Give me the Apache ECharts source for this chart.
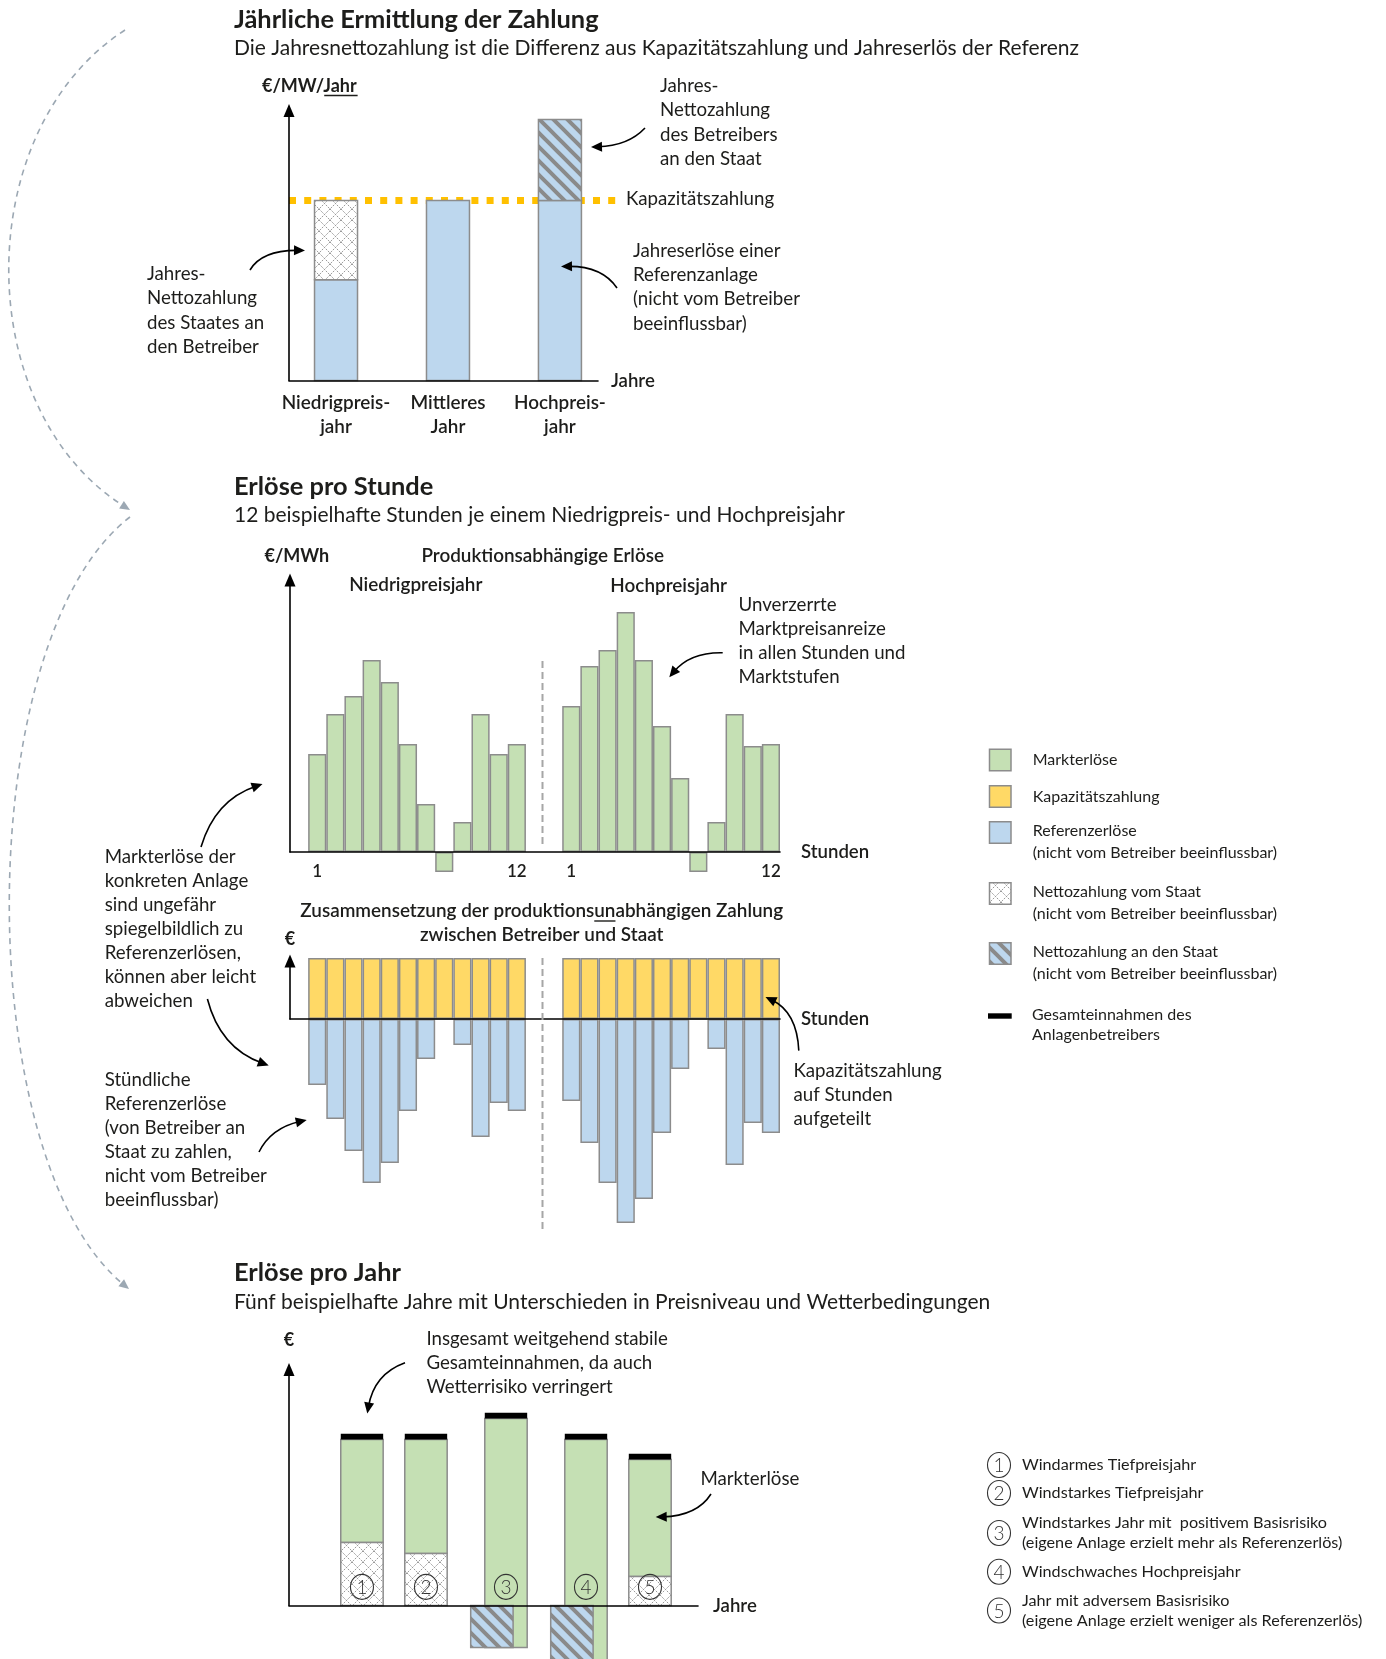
<!DOCTYPE html>
<html lang="de">
<head>
<meta charset="utf-8">
<title>Kapazitätszahlung – Erlöse</title>
<script src="https://cdn.jsdelivr.net/npm/echarts@6.0.0/dist/echarts.min.js"></script>
<style>
  html, body { margin: 0; padding: 0; background: #fff; }
  #chart { width: 1386px; height: 1659px; }
</style>
</head>
<body>
<div id="chart"></div>
<script>
// ---------- Werte ----------
// Jährliche Ermittlung (Index: Kapazitätszahlung = 100)
const yearTypes = ['Niedrigpreis-\njahr', 'Mittleres\nJahr', 'Hochpreis-\njahr'];
const capacityPayment = 100;
const referenceAnnual = [56, 100, 145];

// Erlöse pro Stunde: 12 Beispielstunden je Jahr
const hourLabels = ['1', '2', '3', '4', '5', '6', '7', '8', '9', '10', '11', '12'];
const marketLow  = [49, 69, 78, 96, 85, 54, 24, -10, 15, 69, 49, 54];
const marketHigh = [73, 93, 101, 120, 96, 63, 37, -10, 15, 69, 53, 54];
const capacityLow  = [30.5, 30.5, 30.5, 30.5, 30.5, 30.5, 30.5, 30.5, 30.5, 30.5, 30.5, 30.5];
const capacityHigh = [30.5, 30.5, 30.5, 30.5, 30.5, 30.5, 30.5, 30.5, 30.5, 30.5, 30.5, 30.5];
const referenceLow  = [33, 50, 66, 82, 72, 46, 20, 0, 13, 59, 42, 46];
const referenceHigh = [41, 62, 82, 102, 90, 57, 25, 0, 15, 73, 52, 57];

// Erlöse pro Jahr: fünf Beispieljahre
const yearCases = ['1', '2', '3', '4', '5'];
const yearCaseText = [
  'Windarmes Tiefpreisjahr',
  'Windstarkes Tiefpreisjahr',
  'Windstarkes Jahr mit  positivem Basisrisiko\n(eigene Anlage erzielt mehr als Referenzerlös)',
  'Windschwaches Hochpreisjahr',
  'Jahr mit adversem Basisrisiko\n(eigene Anlage erzielt weniger als Referenzerlös)'
];
const marketYear   = [51.5, 57, 114.5, 111, 58.5];
const netFromState = [31.5, 26, 0, 0, 14.5];
const netToState   = [0, 0, 21, 28, 0];

// ---------- Layout ----------
const yearSlot = [1, 2, 3.25, 4.5, 5.5];   // Lage der Jahre auf der Zeitachse
const hatchShift = 0.22;                   // Versatz der Zahlung an den Staat
const capLineSpan = [0.58, 3.51];          // Ausdehnung der Linie für die Kapazitätszahlung
const FONT = 'Lato, "Noto Sans", sans-serif';
const INK = '#1d1d1b';
const GREEN = '#c5e0b4', YELLOW = '#ffd966', BLUE = '#bdd7ee', EDGE = '#8c8c8c';
const CAPLINE = '#ffc000', ARC = '#9ca8b3';
const NOTE = 18.7, LABEL = 18.9;

// ---------- Füllmuster ----------
function crossPattern() {
  const s = 11, c = document.createElement('canvas');
  c.width = s; c.height = s;
  const g = c.getContext('2d');
  g.fillStyle = '#fff'; g.fillRect(0, 0, s, s);
  g.strokeStyle = '#9a9a9a'; g.lineWidth = 1; g.setLineDash([2, 1.2]);
  g.beginPath(); g.moveTo(0, 0); g.lineTo(s, s); g.moveTo(s, 0); g.lineTo(0, s); g.stroke();
  return c;
}
function stripePattern() {
  const s = 14, c = document.createElement('canvas');
  c.width = s; c.height = s;
  const g = c.getContext('2d');
  g.fillStyle = BLUE; g.fillRect(0, 0, s, s);
  g.strokeStyle = '#8a8a8a'; g.lineWidth = 4;
  g.beginPath();
  for (let k = -1; k <= 1; k++) { g.moveTo(-3, -3 + k * s); g.lineTo(s + 3, s + 3 + k * s); }
  g.stroke();
  return c;
}
const CROSS = { image: crossPattern(), repeat: 'repeat' };
const STRIPES = { image: stripePattern(), repeat: 'repeat' };

// ---------- Hilfsfunktionen ----------
const measureCtx = document.createElement('canvas').getContext('2d');
function textWidth(str, font) { measureCtx.font = font; return measureCtx.measureText(str).width; }
function fnt(weight, size) { return `${weight} ${size}px ${FONT}`; }

// y = Mitte der ersten Zeile
function txt(text, x, y, opt) {
  opt = opt || {};
  const size = opt.size || NOTE, lh = opt.lh || 24;
  const align = opt.align || 'left';
  return { type: 'text', silent: true, z: 50, style: {
    text, x, y: y - lh / 2, font: fnt(opt.weight || 'normal', size), fill: opt.color || INK,
    lineHeight: lh, align, textAlign: align, verticalAlign: 'top', textVerticalAlign: 'top'
  } };
}
function hline(x1, x2, y, w, color) {
  return { type: 'line', silent: true, z: 50, shape: { x1, y1: y, x2, y2: y },
    style: { stroke: color || INK, lineWidth: w || 1.3 } };
}
function arrowHead(x1, y1, fromX, fromY, color, L, W) {
  const ang = Math.atan2(y1 - fromY, x1 - fromX);
  const bx = x1 - L * Math.cos(ang), by = y1 - L * Math.sin(ang);
  const nx = -Math.sin(ang), ny = Math.cos(ang);
  return { type: 'polygon', silent: true, z: 50,
    shape: { points: [[x1, y1], [bx + nx * W, by + ny * W], [bx - nx * W, by - ny * W]] },
    style: { fill: color } };
}
function curvedArrow(x0, y0, cx, cy, x1, y1) {
  const ang = Math.atan2(y1 - cy, x1 - cx);
  const ex = x1 - 7 * Math.cos(ang), ey = y1 - 7 * Math.sin(ang);
  return [
    { type: 'bezierCurve', silent: true, z: 50,
      shape: { x1: x0, y1: y0, cpx1: cx, cpy1: cy, x2: ex, y2: ey },
      style: { stroke: '#000', lineWidth: 1.6, fill: 'none' } },
    arrowHead(x1, y1, cx, cy, '#000', 11, 5)
  ];
}
function dashedArc(x0, y0, c1x, c1y, c2x, c2y, x1, y1) {
  const ang = Math.atan2(y1 - c2y, x1 - c2x);
  return [
    { type: 'bezierCurve', silent: true, z: 40,
      shape: { x1: x0, y1: y0, cpx1: c1x, cpy1: c1y, cpx2: c2x, cpy2: c2y,
        x2: x1 - 6 * Math.cos(ang), y2: y1 - 6 * Math.sin(ang) },
      style: { stroke: ARC, lineWidth: 1.6, lineDash: [6, 5], fill: 'none' } },
    arrowHead(x1, y1, c2x, c2y, ARC, 10, 4.5)
  ];
}
function numberCircle(cx, cy, label) {
  return [
    { type: 'ellipse', silent: true, z: 50, shape: { cx, cy, rx: 11.5, ry: 12.5 },
      style: { fill: 'none', stroke: '#333', lineWidth: 1.1 } },
    { type: 'text', silent: true, z: 51, style: { text: label, x: cx, y: cy + 1, font: fnt('300', 19),
      fill: '#333', align: 'center', textAlign: 'center', verticalAlign: 'middle', textVerticalAlign: 'middle' } }
  ];
}

// Balkenabschnitt [x, von, bis] über die Achsen der Koordinatensysteme
function segmentSeries(name, axisIdx, data, fill, widthUnits, z) {
  return {
    type: 'custom', name, xAxisIndex: axisIdx, yAxisIndex: axisIdx, data,
    clip: false, silent: true, z: z || 2,
    encode: { x: 0, y: [1, 2] },
    renderItem(params, api) {
      const x = api.value(0);
      const a = api.coord([x, api.value(1)]), b = api.coord([x, api.value(2)]);
      const w = api.size([widthUnits, 0])[0];
      return { type: 'rect',
        shape: { x: a[0] - w / 2, y: Math.min(a[1], b[1]), width: w, height: Math.abs(a[1] - b[1]) },
        style: { fill, stroke: EDGE, lineWidth: 1.5 } };
    }
  };
}

// ---------- abgeleitete Reihen ----------
const annualRef = referenceAnnual.map((r, i) => [i + 1, 0, Math.min(r, capacityPayment)]);
const annualFromState = referenceAnnual.map((r, i) => [i + 1, r, capacityPayment]).filter(d => d[1] < d[2]);
const annualToState = referenceAnnual.map((r, i) => [i + 1, capacityPayment, r]).filter(d => d[2] > d[1]);

const slotIds = ['pad'].concat(hourLabels.map(h => 'N' + h), ['gapA', 'gapB'], hourLabels.map(h => 'H' + h));
const fillSlots = (low, high) => [null].concat(low, [null, null], high);

const yearTotal = marketYear.map((m, i) => netFromState[i] - netToState[i] + m);
const yearGreen = yearSlot.map((x, i) => [x, netFromState[i] - netToState[i], yearTotal[i]]);
const yearFrom = yearSlot.map((x, i) => [x, 0, netFromState[i]]).filter(d => d[2] > 0);
const yearTo = yearSlot.map((x, i) => [x - hatchShift, -netToState[i], 0]).filter(d => d[1] < 0);
const yearTop = yearSlot.map((x, i) => [x, yearTotal[i]]);
const yearMarks = yearSlot.map(x => [x, 0]);

// ---------- Achsen ----------
const blackLine = { show: true, onZero: false, lineStyle: { color: '#000', width: 1.6 } };
const arrowLine = { show: true, onZero: false, symbol: ['none', 'triangle'], symbolSize: [11, 13],
  lineStyle: { color: '#000', width: 1.6 } };
const nameStyle = { fontFamily: FONT, fontSize: 18.6, fontWeight: 600, color: INK };
const hidden = { axisTick: { show: false }, splitLine: { show: false } };

function yAx(gridIndex, max) {
  return Object.assign({ type: 'value', gridIndex, min: 0, max, axisLine: arrowLine,
    axisLabel: { show: false }, z: 10 }, hidden);
}

const option = {
  animation: false,
  backgroundColor: '#ffffff',
  textStyle: { fontFamily: FONT },
  grid: [
    { left: 289, top: 110.5, width: 309, height: 270 },
    { left: 290, top: 580, width: 490, height: 272 },
    { left: 290, top: 961, width: 490, height: 58 },
    { left: 289, top: 1369.5, width: 409, height: 236 }
  ].map(g => Object.assign({ containLabel: false, outerBoundsMode: 'none' }, g)),
  xAxis: [
    Object.assign({ type: 'value', gridIndex: 0, min: 0.58, max: 3.34, axisLine: blackLine, z: 10,
      name: 'Jahre', nameLocation: 'end', nameGap: 13, nameTextStyle: nameStyle,
      axisLabel: { customValues: [1, 2, 3], formatter: v => yearTypes[Math.round(v) - 1] || '',
        margin: 10, lineHeight: 24, fontFamily: FONT, fontSize: LABEL, fontWeight: 600, color: INK } }, hidden),
    Object.assign({ type: 'category', gridIndex: 1, data: slotIds, boundaryGap: true, axisLine: blackLine, z: 10,
      name: 'Stunden', nameLocation: 'end', nameGap: 21, nameTextStyle: nameStyle,
      axisLabel: { interval: 0, margin: 11, fontFamily: FONT, fontSize: 17, fontWeight: 600, color: INK,
        formatter: v => (v === 'N1' || v === 'H1') ? '1' : (v === 'N12' || v === 'H12') ? '12' : '' } }, hidden),
    Object.assign({ type: 'category', gridIndex: 2, data: slotIds, boundaryGap: true, axisLine: blackLine, z: 10,
      name: 'Stunden', nameLocation: 'end', nameGap: 21, nameTextStyle: nameStyle,
      axisLabel: { show: false } }, hidden),
    Object.assign({ type: 'value', gridIndex: 3, min: -0.14, max: 6.25, axisLine: blackLine, z: 10,
      name: 'Jahre', nameLocation: 'end', nameGap: 15, nameTextStyle: nameStyle,
      axisLabel: { show: false } }, hidden)
  ],
  yAxis: [yAx(0, 150), yAx(1, 136), yAx(2, 29), yAx(3, 118)],
  series: [
    // Jährliche Ermittlung
    { type: 'custom', name: 'Kapazitätszahlung', xAxisIndex: 0, yAxisIndex: 0, z: 1, clip: false, silent: true,
      data: [[capLineSpan[0], capLineSpan[1], capacityPayment]], encode: { x: [0, 1], y: 2 },
      renderItem(params, api) {
        const a = api.coord([api.value(0), api.value(2)]), b = api.coord([api.value(1), api.value(2)]);
        return { type: 'line', shape: { x1: a[0], y1: a[1], x2: b[0], y2: b[1] },
          style: { stroke: CAPLINE, lineWidth: 7, lineDash: [7, 8.2], lineCap: 'butt' } };
      } },
    segmentSeries('Referenzerlöse', 0, annualRef, BLUE, 0.384),
    segmentSeries('Nettozahlung vom Staat', 0, annualFromState, CROSS, 0.384),
    segmentSeries('Nettozahlung an den Staat', 0, annualToState, STRIPES, 0.384),

    // Erlöse pro Stunde
    { type: 'bar', name: 'Markterlöse', xAxisIndex: 1, yAxisIndex: 1, clip: false, silent: true,
      data: fillSlots(marketLow, marketHigh), barWidth: '100%',
      itemStyle: { color: GREEN, borderColor: EDGE, borderWidth: 1.5 } },
    { type: 'bar', name: 'Kapazitätszahlung', xAxisIndex: 2, yAxisIndex: 2, clip: false, silent: true,
      data: fillSlots(capacityLow, capacityHigh), barWidth: '100%', barGap: '-100%',
      itemStyle: { color: YELLOW, borderColor: EDGE, borderWidth: 1.5 } },
    { type: 'bar', name: 'Referenzerlöse', xAxisIndex: 2, yAxisIndex: 2, clip: false, silent: true,
      data: fillSlots(referenceLow.map(v => -v), referenceHigh.map(v => -v)), barWidth: '100%', barGap: '-100%',
      itemStyle: { color: BLUE, borderColor: EDGE, borderWidth: 1.5 } },

    // Erlöse pro Jahr
    segmentSeries('Markterlöse', 3, yearGreen, GREEN, 0.6625, 2),
    segmentSeries('Nettozahlung vom Staat', 3, yearFrom, CROSS, 0.6625, 3),
    segmentSeries('Nettozahlung an den Staat', 3, yearTo, STRIPES, 0.6625, 4),
    { type: 'custom', name: 'Gesamteinnahmen', xAxisIndex: 3, yAxisIndex: 3, data: yearTop,
      clip: false, silent: true, z: 5, encode: { x: 0, y: 1 },
      renderItem(params, api) {
        const p = api.coord([api.value(0), api.value(1)]);
        const w = api.size([0.6625, 0])[0];
        return { type: 'rect', shape: { x: p[0] - w / 2, y: p[1] - 5.7, width: w, height: 5.7 }, style: { fill: '#000' } };
      } },
    { type: 'custom', name: 'Fall', xAxisIndex: 3, yAxisIndex: 3, data: yearMarks,
      clip: false, silent: true, z: 6, encode: { x: 0, y: 1 },
      renderItem(params, api) {
        const p = api.coord([api.value(0), api.value(1)]);
        return { type: 'group', children: numberCircle(p[0], p[1] - 18.6, yearCases[params.dataIndex]) };
      } }
  ],
  graphic: []
};

// ---------- Texte, Pfeile, Legende ----------
const G = option.graphic;
const add = (...els) => els.forEach(e => Array.isArray(e) ? G.push(...e) : G.push(e));

// Abschnitt 1
add(txt('Jährliche Ermittlung der Zahlung', 234, 20, { size: 25.4, weight: 'bold', lh: 30 }));
add(txt('Die Jahresnettozahlung ist die Differenz aus Kapazitätszahlung und Jahreserlös der Referenz', 234, 48.7, { size: 21, lh: 26 }));
{
  const f = fnt('bold', 18), x0 = 262;
  add(txt('€/MW/Jahr', x0, 86, { weight: 'bold', size: 18 }));
  const a = x0 + textWidth('€/MW/', f);
  add(hline(a, a + textWidth('Jahr', f), 95.5, 1.4));
}
add(txt('Jahres-\nNettozahlung\ndes Betreibers\nan den Staat', 660, 86, { lh: 24.3 }));
add(txt('Kapazitätszahlung', 626, 199));
add(txt('Jahreserlöse einer\nReferenzanlage\n(nicht vom Betreiber\nbeeinflussbar)', 633, 250.7, { lh: 24.3 }));
add(txt('Jahres-\nNettozahlung\ndes Staates an\nden Betreiber', 147, 274, { lh: 24.3 }));
add(curvedArrow(645, 128, 628, 146, 591, 147));
add(curvedArrow(250, 270, 262, 250, 305, 250.5));
add(curvedArrow(617, 288, 602, 266, 561, 266.5));

// Abschnitt 2
add(txt('Erlöse pro Stunde', 234, 487, { size: 25.4, weight: 'bold', lh: 30 }));
add(txt('12 beispielhafte Stunden je einem Niedrigpreis- und Hochpreisjahr', 234, 515.5, { size: 21, lh: 26 }));
add(txt('€/MWh', 264.5, 556.5, { weight: 'bold', size: 18 }));
add(txt('Produktionsabhängige Erlöse', 542.7, 555.5, { weight: 600, size: LABEL, align: 'center' }));
add(txt('Niedrigpreisjahr', 415.8, 585, { weight: 600, size: LABEL, align: 'center' }));
add(txt('Hochpreisjahr', 668.7, 586, { weight: 600, size: LABEL, align: 'center' }));
add(txt('Unverzerrte\nMarktpreisanreize\nin allen Stunden und\nMarktstufen', 738.5, 605, { lh: 24 }));
add(curvedArrow(722.7, 652.7, 690, 652, 669.3, 677.3));
add(txt('Markterlöse der\nkonkreten Anlage\nsind ungefähr\nspiegelbildlich zu\nReferenzerlösen,\nkönnen aber leicht\nabweichen', 104.7, 857, { lh: 24 }));
add(curvedArrow(201, 847, 215, 800, 262.5, 784));
add(curvedArrow(207.4, 999, 220, 1048, 268.7, 1065.4));
{
  const f = fnt(600, LABEL), line1 = 'Zusammensetzung der produktionsunabhängigen Zahlung';
  add(txt(line1 + '\nzwischen Betreiber und Staat', 541.7, 911, { weight: 600, size: LABEL, align: 'center', lh: 24.3 }));
  const left = 541.7 - textWidth(line1, f) / 2 + textWidth('Zusammensetzung der produktions', f);
  add(hline(left, left + textWidth('un', f), 921, 1.4));
}
add(txt('€', 290, 939.5, { weight: 'bold', size: 18, align: 'center' }));
add(txt('Kapazitätszahlung\nauf Stunden\naufgeteilt', 793.5, 1070.7, { lh: 24.3 }));
add(curvedArrow(798.8, 1050.6, 797, 1012, 765.5, 997));
add(txt('Stündliche\nReferenzerlöse\n(von Betreiber an\nStaat zu zahlen,\nnicht vom Betreiber\nbeeinflussbar)', 104.7, 1080, { lh: 24 }));
add(curvedArrow(259, 1152, 271, 1128, 306.7, 1120));

// Trennlinien zwischen Niedrig- und Hochpreisjahr
add({ type: 'line', silent: true, z: 45, shape: { x1: 542.5, y1: 661, x2: 542.5, y2: 848 },
  style: { stroke: '#a6a6a6', lineWidth: 2, lineDash: [7, 4] } });
add({ type: 'line', silent: true, z: 45, shape: { x1: 542.5, y1: 958, x2: 542.5, y2: 1230 },
  style: { stroke: '#a6a6a6', lineWidth: 2, lineDash: [7, 4] } });

// Abschnitt 3
add(txt('Erlöse pro Jahr', 234, 1273, { size: 25.4, weight: 'bold', lh: 30 }));
add(txt('Fünf beispielhafte Jahre mit Unterschieden in Preisniveau und Wetterbedingungen', 234, 1302.5, { size: 21, lh: 26 }));
add(txt('€', 289, 1340.5, { weight: 'bold', size: 18, align: 'center' }));
add(txt('Insgesamt weitgehend stabile\nGesamteinnahmen, da auch\nWetterrisiko verringert', 426.4, 1339.4, { lh: 24 }));
add(curvedArrow(405, 1362.7, 374, 1374, 367.3, 1413.5));
add(txt('Markterlöse', 700.4, 1479));
add(curvedArrow(711, 1494, 697, 1516, 655.7, 1517));

// Verbindungsbögen links
add(dashedArc(125, 30, -30, 130, -30, 410, 130, 510));
add(dashedArc(130, 517, -30, 640, -30, 1160, 129, 1289));

// Legende
const legendRows = [
  { fill: GREEN, top: 749.3, text: 'Markterlöse', ty: 760 },
  { fill: YELLOW, top: 785.7, text: 'Kapazitätszahlung', ty: 796.5 },
  { fill: BLUE, top: 821.7, text: 'Referenzerlöse\n(nicht vom Betreiber beeinflussbar)', ty: 831 },
  { fill: CROSS, top: 882.7, text: 'Nettozahlung vom Staat\n(nicht vom Betreiber beeinflussbar)', ty: 892.3 },
  { fill: STRIPES, top: 942.7, text: 'Nettozahlung an den Staat\n(nicht vom Betreiber beeinflussbar)', ty: 951.7 }
];
legendRows.forEach(r => {
  add({ type: 'rect', silent: true, z: 50, shape: { x: 989.5, y: r.top, width: 21.5, height: 21.5 },
    style: { fill: r.fill, stroke: EDGE, lineWidth: 1.5 } });
  add(txt(r.text, 1032.7, r.ty, { size: 16, lh: 21.7 }));
});
add({ type: 'rect', silent: true, z: 50, shape: { x: 988, y: 1013.3, width: 23.7, height: 5.4 }, style: { fill: '#000' } });
add(txt('Gesamteinnahmen des\nAnlagenbetreibers', 1032, 1015, { size: 16, lh: 20 }));

// Beschreibung der Beispieljahre
const caseRows = [
  { cy: 1465, ty: 1465 }, { cy: 1493, ty: 1493 }, { cy: 1533, ty: 1523 },
  { cy: 1571.7, ty: 1571.7 }, { cy: 1610.5, ty: 1600.3 }
];
caseRows.forEach((r, i) => {
  add(numberCircle(999, r.cy, yearCases[i]));
  add(txt(yearCaseText[i], 1022, r.ty, { size: 16.2, lh: 20 }));
});

const chart = echarts.init(document.getElementById('chart'), null, { renderer: 'canvas', width: 1386, height: 1659 });
chart.setOption(option);
</script>
</body>
</html>
